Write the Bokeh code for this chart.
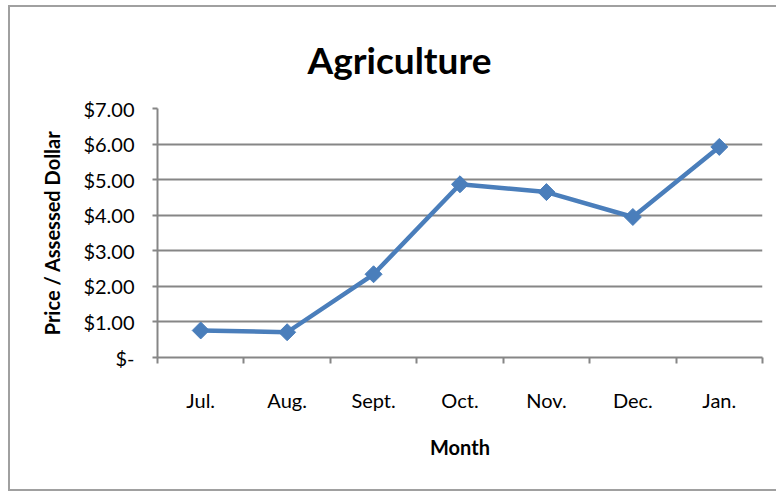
from bokeh.plotting import figure
from bokeh.models import Range1d, FixedTicker, Title, ColumnDataSource
from bokeh.embed import file_html
from bokeh.resources import INLINE
import math

months = ["Jul.", "Aug.", "Sept.", "Oct.", "Nov.", "Dec.", "Jan."]
prices = [0.76, 0.71, 2.34, 4.87, 4.65, 3.95, 5.92]
y_ticks = [0, 1, 2, 3, 4, 5, 6, 7]
y_labels = ["$-", "$1.00", "$2.00", "$3.00", "$4.00", "$5.00", "$6.00", "$7.00"]

x_pos = list(range(1, len(months) + 1))
src = ColumnDataSource(dict(x=x_pos, y=prices))

FONT = "Lato"
GRID = "#868686"
BLUE = "#4A7EBB"
EDGE = "#a0a0a0"

p = figure(width=766, height=482, output_backend="svg", toolbar_location=None,
           x_range=Range1d(0.5, len(months) + 0.5), y_range=Range1d(0, 7),
           min_border_left=147, min_border_right=14, min_border_top=101, min_border_bottom=132)
p.margin = (7, 0, 2, 10)
p.styles = {"box-shadow": f"-2px 0 0 {EDGE}, 0 -2px 0 {EDGE}, 0 2px 0 {EDGE}, -2px -2px 0 {EDGE}, -2px 2px 0 {EDGE}"}
p.outline_line_color = None
p.background_fill_color = "white"
p.border_fill_color = "white"

t = Title(text="Agriculture", align="left", offset=150, standoff=53,
          text_font=FONT, text_font_size="37px", text_font_style="bold", text_color="black")
p.add_layout(t, "above")

# y axis
ya = p.yaxis[0]
ya.ticker = FixedTicker(ticks=y_ticks)
ya.major_label_overrides = {k: v for k, v in zip(y_ticks, y_labels)}
ya.major_tick_out = 5
ya.major_tick_in = 0
ya.minor_tick_line_color = None
ya.axis_line_color = GRID
ya.axis_line_width = 2
ya.major_tick_line_color = GRID
ya.major_tick_line_width = 2
ya.major_label_text_font = FONT
ya.major_label_text_font_size = "20px"
ya.major_label_text_color = "black"
ya.major_label_standoff = 18
ya.axis_label = "Price / Assessed Dollar"
ya.axis_label_text_font = FONT
ya.axis_label_text_font_size = "20px"
ya.axis_label_text_font_style = "bold"
ya.axis_label_text_color = "black"
ya.axis_label_standoff = 16

# x axis
xa = p.xaxis[0]
xa.ticker = FixedTicker(ticks=x_pos, minor_ticks=[i + 0.5 for i in range(len(months) + 1)])
xa.major_label_overrides = {k: v for k, v in zip(x_pos, months)}
xa.major_tick_line_color = None
xa.major_tick_out = 0
xa.major_tick_in = 0
xa.minor_tick_out = 6
xa.minor_tick_in = 0
xa.minor_tick_line_color = GRID
xa.minor_tick_line_width = 2
xa.axis_line_color = GRID
xa.axis_line_width = 2
xa.major_label_text_font = FONT
xa.major_label_text_font_size = "20px"
xa.major_label_text_color = "black"
xa.major_label_standoff = 24
xa.axis_label = "Month"
xa.axis_label_text_font = FONT
xa.axis_label_text_font_size = "20px"
xa.axis_label_text_font_style = "bold"
xa.axis_label_text_color = "black"
xa.axis_label_standoff = 20

p.xgrid.grid_line_color = None
p.ygrid.ticker = FixedTicker(ticks=y_ticks)
p.ygrid.grid_line_color = GRID
p.ygrid.grid_line_width = 2

p.line("x", "y", source=src, line_color=BLUE, line_width=4.5)
p.scatter("x", "y", source=src, marker="square", angle=math.pi / 4, size=12,
          fill_color=BLUE, line_color=BLUE)

open("out.html", "w").write(file_html(p, INLINE))
